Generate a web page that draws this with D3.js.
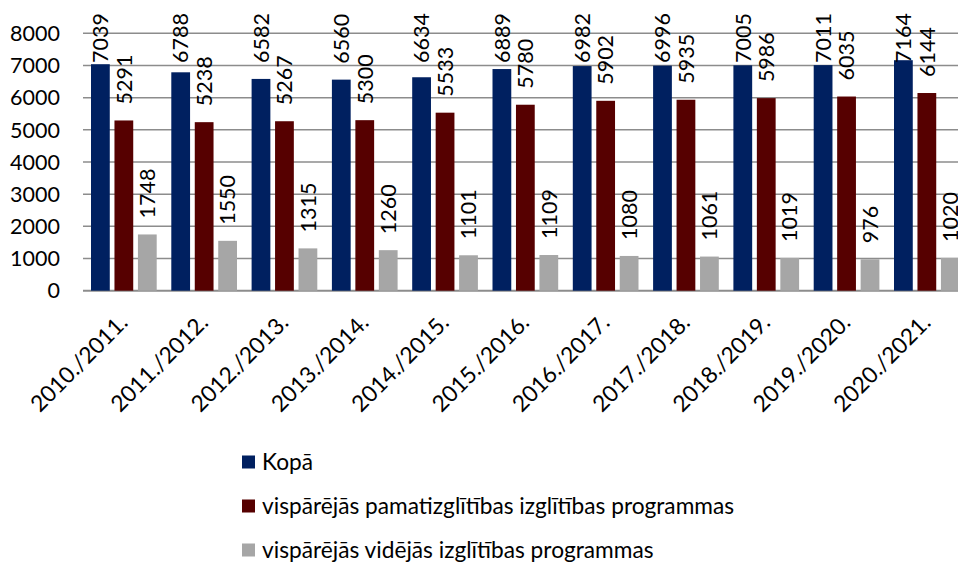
<!DOCTYPE html>
<html>
<head>
<meta charset="utf-8">
<script src="https://cdn.jsdelivr.net/npm/d3@7"></script>
<style>
    body { margin: 0; background: #ffffff; }
    svg { display: block; font-family: Lato, 'Open Sans', sans-serif; }
</style>
</head>
<body>
<svg width="958" height="565"></svg>
<script>
const years = ['2010./2011.', '2011./2012.', '2012./2013.', '2013./2014.', '2014./2015.',
    '2015./2016.', '2016./2017.', '2017./2018.', '2018./2019.', '2019./2020.', '2020./2021.'];
const seriesNames = ['Kopā', 'vispārējās pamatizglītības izglītības programmas',
    'vispārējās vidējās izglītības programmas'];
const kopa = [7039, 6788, 6582, 6560, 6634, 6889, 6982, 6996, 7005, 7011, 7164];
const pamat = [5291, 5238, 5267, 5300, 5533, 5780, 5902, 5935, 5986, 6035, 6144];
const videjas = [1748, 1550, 1315, 1260, 1101, 1109, 1080, 1061, 1019, 976, 1020];
const yTicks = [0, 1000, 2000, 3000, 4000, 5000, 6000, 7000, 8000];
const colors = ['#002060', '#560000', '#a6a6a6'];

const svg = d3.select('svg');
const fontSize = 21.5;
const textSize = 22.7;

const series = [kopa, pamat, videjas];
const rows = years.map((year, i) => ({year: year, values: series.map(s => s[i])}));

// Scales
const y = d3.scaleLinear()
    .domain([0, 8000])
    .range([290.7, 33.3]);

const x0 = d3.scaleBand()
    .domain(years)
    .range([83, 966.3])
    .padding(0);

const x1 = d3.scaleBand()
    .domain([0, 1, 2])
    .range([8, x0.bandwidth() - 6.6])
    .paddingInner(0.2);

// Gridlines
svg.append('g')
    .selectAll('line')
    .data(yTicks)
    .enter().append('line')
    .attr('x1', 83)
    .attr('x2', 958)
    .attr('y1', d => y(d))
    .attr('y2', d => y(d))
    .style('stroke', '#8c8c8c')
    .style('stroke-width', d => (d == 0 ? 2 : 1.5));

// Y tick labels
svg.append('g')
    .selectAll('text')
    .data(yTicks)
    .enter().append('text')
    .attr('x', 60)
    .attr('y', d => y(d))
    .attr('dy', '0.36em')
    .style('text-anchor', 'end')
    .style('font-size', fontSize + 'px')
    .style('fill', '#000')
    .text(d => d);

// Bars
const groups = svg.append('g')
    .selectAll('g')
    .data(rows)
    .enter().append('g')
    .attr('transform', d => 'translate(' + x0(d.year) + ',0)');

groups.selectAll('rect')
    .data(d => d.values.map((v, k) => ({k: k, v: v})))
    .enter().append('rect')
    .attr('x', d => x1(d.k))
    .attr('width', x1.bandwidth())
    .attr('y', d => y(d.v))
    .attr('height', d => y(0) - y(d.v))
    .style('fill', d => colors[d.k]);

// Value labels, rotated, kept inside the top of the plot
groups.selectAll('text')
    .data(d => d.values.map((v, k) => ({k: k, v: v})))
    .enter().append('text')
    .style('font-size', fontSize + 'px')
    .style('fill', '#000')
    .style('text-anchor', 'start')
    .text(d => d.v)
    .attr('transform', function(d)
    {
        const len = this.getComputedTextLength();
        const bottom = Math.max(y(d.v) - 16, 13 + len);
        const cx = x1(d.k) + x1.bandwidth() / 2;
        return 'translate(' + cx + ',' + bottom + ') rotate(-90)';
    })
    .attr('dy', '0.36em');

// X labels
svg.append('g')
    .selectAll('text')
    .data(years)
    .enter().append('text')
    .attr('transform', d => 'translate(' + (x0(d) + x0.bandwidth() / 2 + 6) + ',324) rotate(-45)')
    .style('text-anchor', 'end')
    .style('font-size', textSize + 'px')
    .style('fill', '#000')
    .text(d => d);

// Legend
const legend = svg.append('g')
    .selectAll('g')
    .data(seriesNames)
    .enter().append('g')
    .attr('transform', (d, i) => 'translate(242,' + (462 + i * 44) + ')');

legend.append('rect')
    .attr('x', 0)
    .attr('y', -6.5)
    .attr('width', 13)
    .attr('height', 13)
    .style('fill', (d, i) => colors[i]);

legend.append('text')
    .attr('x', 20)
    .attr('dy', '0.36em')
    .style('font-size', textSize + 'px')
    .style('fill', '#000')
    .text(d => d);
</script>
</body>
</html>
